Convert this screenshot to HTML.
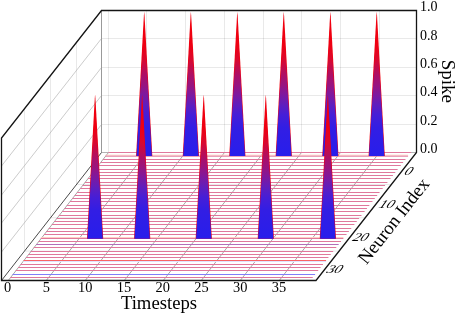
<!DOCTYPE html>
<html><head><meta charset="utf-8"><title>Spike raster 3D</title>
<style>html,body{margin:0;padding:0;background:#fff;}svg{display:block;}text{font-family:"Liberation Serif",serif;fill:#000;}</style>
</head><body>
<svg width="457" height="313" viewBox="0 0 457 313">
<defs>
<linearGradient id="g1" gradientUnits="userSpaceOnUse" x1="0" y1="14.00" x2="0" y2="156.00"><stop offset="0.000" stop-color="#f0000f"/><stop offset="0.220" stop-color="#ee0012"/><stop offset="0.320" stop-color="#da082e"/><stop offset="0.435" stop-color="#aa0f69"/><stop offset="0.500" stop-color="#981480"/><stop offset="0.570" stop-color="#7d19a0"/><stop offset="0.640" stop-color="#5f1ebe"/><stop offset="0.710" stop-color="#461ed7"/><stop offset="0.800" stop-color="#321ee4"/><stop offset="1.000" stop-color="#281eeb"/></linearGradient>
<linearGradient id="g26" gradientUnits="userSpaceOnUse" x1="0" y1="96.70" x2="0" y2="238.70"><stop offset="0.000" stop-color="#f0000f"/><stop offset="0.220" stop-color="#ee0012"/><stop offset="0.320" stop-color="#da082e"/><stop offset="0.435" stop-color="#aa0f69"/><stop offset="0.500" stop-color="#981480"/><stop offset="0.570" stop-color="#7d19a0"/><stop offset="0.640" stop-color="#5f1ebe"/><stop offset="0.710" stop-color="#461ed7"/><stop offset="0.800" stop-color="#321ee4"/><stop offset="1.000" stop-color="#281eeb"/></linearGradient>
</defs>
<rect width="457" height="313" fill="#fff"/>
<path d="M108.50 10.5V152.5M146.50 10.5V152.5M185.50 10.5V152.5M224.50 10.5V152.5M263.50 10.5V152.5M301.50 10.5V152.5M340.50 10.5V152.5M379.50 10.5V152.5M76.50 42.38V184.50M50.50 75.52V217.78M24.50 108.67V251.06" fill="none" stroke="#000" stroke-opacity="0.085" stroke-width="1"/>
<path d="M101.5 38.50H416.5M101.5 67.50H416.5M101.5 95.50H416.5M101.5 124.50H416.5M76.50 184.50H391.50M50.50 217.78H365.50M24.50 251.06H339.50" fill="none" stroke="#000" stroke-opacity="0.085" stroke-width="1"/>
<path d="M101.5 38.50L1.5 166.00M101.5 67.50L1.5 195.00M101.5 95.50L1.5 223.00M101.5 124.50L1.5 252.00" fill="none" stroke="#a8a8a8" stroke-width="0.6"/>
<path d="M108.50 152.5L8.25 280.5M146.50 152.5L46.25 280.5M185.50 152.5L85.25 280.5M224.50 152.5L124.25 280.5M263.50 152.5L163.25 280.5M301.50 152.5L201.25 280.5M340.50 152.5L240.25 280.5M379.50 152.5L279.25 280.5" fill="none" stroke="#808080" stroke-width="0.7"/>
<path d="M101.5 10.5V152.5" fill="none" stroke="#9a9a9a" stroke-width="1"/>
<path d="M101.5 152.5H416.5" fill="none" stroke="#b4b4b4" stroke-width="1"/>
<path d="M101.5 152.5L1.5 280.5" fill="none" stroke="#4a4a4a" stroke-width="1"/>
<path d="M108.46 152.50H410.99" stroke="#e0789c" stroke-width="1" fill="none"/>
<path d="M105.55 155.20H408.08" stroke="#ffcdc3" stroke-width="1" fill="none"/>
<path d="M105.55 156.20H408.08" stroke="#e0789c" stroke-width="1" fill="none"/>
<path d="M136.10 156.00L143.88 15.50L144.20 11.80L144.52 15.50L152.30 156.00Z" fill="#f0000f"/>
<path d="M136.55 156.00L144.20 21.90L151.85 156.00Z" fill="url(#g1)"/>
<path d="M182.77 156.00L190.55 15.50L190.87 11.80L191.19 15.50L198.97 156.00Z" fill="#f0000f"/>
<path d="M183.22 156.00L190.87 21.90L198.52 156.00Z" fill="url(#g1)"/>
<path d="M229.24 156.00L237.02 15.50L237.34 11.80L237.66 15.50L245.44 156.00Z" fill="#f0000f"/>
<path d="M229.69 156.00L237.34 21.90L244.99 156.00Z" fill="url(#g1)"/>
<path d="M275.66 156.00L283.44 15.50L283.76 11.80L284.08 15.50L291.86 156.00Z" fill="#f0000f"/>
<path d="M276.11 156.00L283.76 21.90L291.41 156.00Z" fill="url(#g1)"/>
<path d="M322.28 156.00L330.06 15.50L330.38 11.80L330.70 15.50L338.48 156.00Z" fill="#f0000f"/>
<path d="M322.73 156.00L330.38 21.90L338.03 156.00Z" fill="url(#g1)"/>
<path d="M368.60 156.00L376.38 15.50L376.70 11.80L377.02 15.50L384.80 156.00Z" fill="#f0000f"/>
<path d="M369.05 156.00L376.70 21.90L384.35 156.00Z" fill="url(#g1)"/>
<path d="M102.96 159.50H405.49" stroke="#e0789c" stroke-width="1" fill="none"/>
<path d="M100.60 162.50H403.13" stroke="#e0789c" stroke-width="1" fill="none"/>
<path d="M98.24 165.50H400.77" stroke="#e0789c" stroke-width="1" fill="none"/>
<path d="M95.10 169.50H397.63" stroke="#e0789c" stroke-width="1" fill="none"/>
<path d="M92.74 172.50H395.27" stroke="#e0789c" stroke-width="1" fill="none"/>
<path d="M90.38 175.50H392.91" stroke="#e0789c" stroke-width="1" fill="none"/>
<path d="M88.02 178.50H390.55" stroke="#e0789c" stroke-width="1" fill="none"/>
<path d="M84.88 182.50H387.41" stroke="#e0789c" stroke-width="1" fill="none"/>
<path d="M82.52 185.50H385.05" stroke="#e0789c" stroke-width="1" fill="none"/>
<path d="M80.16 188.50H382.69" stroke="#e0789c" stroke-width="1" fill="none"/>
<path d="M77.02 192.50H379.55" stroke="#e0789c" stroke-width="1" fill="none"/>
<path d="M74.66 195.50H377.19" stroke="#e0789c" stroke-width="1" fill="none"/>
<path d="M72.30 198.50H374.83" stroke="#e0789c" stroke-width="1" fill="none"/>
<path d="M69.94 201.50H372.47" stroke="#e0789c" stroke-width="1" fill="none"/>
<path d="M66.80 205.50H369.33" stroke="#e0789c" stroke-width="1" fill="none"/>
<path d="M64.44 208.50H366.97" stroke="#e0789c" stroke-width="1" fill="none"/>
<path d="M62.08 211.50H364.61" stroke="#e0789c" stroke-width="1" fill="none"/>
<path d="M58.94 215.50H361.47" stroke="#e0789c" stroke-width="1" fill="none"/>
<path d="M56.58 218.50H359.11" stroke="#e0789c" stroke-width="1" fill="none"/>
<path d="M54.22 221.50H356.75" stroke="#e0789c" stroke-width="1" fill="none"/>
<path d="M51.87 224.50H354.40" stroke="#e0789c" stroke-width="1" fill="none"/>
<path d="M48.72 228.50H351.25" stroke="#e0789c" stroke-width="1" fill="none"/>
<path d="M46.36 231.50H348.89" stroke="#e0789c" stroke-width="1" fill="none"/>
<path d="M44.01 234.50H346.54" stroke="#e0789c" stroke-width="1" fill="none"/>
<path d="M40.86 237.50H343.39" stroke="#ffcdc3" stroke-width="1" fill="none"/>
<path d="M40.86 238.50H343.39" stroke="#e0789c" stroke-width="1" fill="none"/>
<path d="M87.00 238.70L94.78 98.20L95.10 94.50L95.42 98.20L103.20 238.70Z" fill="#f0000f"/>
<path d="M87.45 238.70L95.10 104.60L102.75 238.70Z" fill="url(#g26)"/>
<path d="M134.07 238.70L141.85 98.20L142.17 94.50L142.49 98.20L150.27 238.70Z" fill="#f0000f"/>
<path d="M134.52 238.70L142.17 104.60L149.82 238.70Z" fill="url(#g26)"/>
<path d="M195.63 238.70L203.41 98.20L203.73 94.50L204.05 98.20L211.83 238.70Z" fill="#f0000f"/>
<path d="M196.08 238.70L203.73 104.60L211.38 238.70Z" fill="url(#g26)"/>
<path d="M257.69 238.70L265.47 98.20L265.79 94.50L266.11 98.20L273.89 238.70Z" fill="#f0000f"/>
<path d="M258.14 238.70L265.79 104.60L273.44 238.70Z" fill="url(#g26)"/>
<path d="M319.75 238.70L327.53 98.20L327.85 94.50L328.17 98.20L335.95 238.70Z" fill="#f0000f"/>
<path d="M320.20 238.70L327.85 104.60L335.50 238.70Z" fill="url(#g26)"/>
<path d="M38.50 241.50H341.03" stroke="#e0789c" stroke-width="1" fill="none"/>
<path d="M36.15 244.50H338.68" stroke="#b46eb9" stroke-width="1" fill="none"/>
<path d="M33.79 247.50H336.32" stroke="#e0789c" stroke-width="1" fill="none"/>
<path d="M30.64 251.50H333.17" stroke="#e0789c" stroke-width="1" fill="none"/>
<path d="M28.29 254.50H330.82" stroke="#e0789c" stroke-width="1" fill="none"/>
<path d="M25.93 257.50H328.46" stroke="#e0789c" stroke-width="1" fill="none"/>
<path d="M23.57 261.50H326.10" stroke="#e1e1ff" stroke-width="1" fill="none"/>
<path d="M23.57 260.50H326.10" stroke="#fa6464" stroke-width="1" fill="none"/>
<path d="M20.43 264.50H322.96" stroke="#e0789c" stroke-width="1" fill="none"/>
<path d="M18.07 267.50H320.60" stroke="#e0789c" stroke-width="1" fill="none"/>
<path d="M15.71 270.50H318.24" stroke="#e0789c" stroke-width="1" fill="none"/>
<path d="M12.57 274.50H315.10" stroke="#827dfa" stroke-width="1" fill="none"/>
<path d="M10.21 277.50H312.74" stroke="#e0789c" stroke-width="1" fill="none"/>
<path d="M1.5 280.5V138L101.5 10.5H416.5V152.5L316 280.5Z" fill="none" stroke="#141414" stroke-width="1.3" stroke-linejoin="miter"/>
<g style="filter:grayscale(1)">
<text x="419.9" y="153.10" font-size="14">0.0</text>
<text x="419.9" y="124.70" font-size="14">0.2</text>
<text x="419.9" y="96.30" font-size="14">0.4</text>
<text x="419.9" y="67.90" font-size="14">0.6</text>
<text x="419.9" y="39.50" font-size="14">0.8</text>
<text x="419.9" y="11.10" font-size="14">1.0</text>
<text x="7.70" y="291.9" font-size="14.4" text-anchor="middle">0</text>
<text x="46.46" y="291.9" font-size="14.4" text-anchor="middle">5</text>
<text x="85.22" y="291.9" font-size="14.4" text-anchor="middle">10</text>
<text x="123.98" y="291.9" font-size="14.4" text-anchor="middle">15</text>
<text x="162.74" y="291.9" font-size="14.4" text-anchor="middle">20</text>
<text x="201.50" y="291.9" font-size="14.4" text-anchor="middle">25</text>
<text x="240.26" y="291.9" font-size="14.4" text-anchor="middle">30</text>
<text x="279.02" y="291.9" font-size="14.4" text-anchor="middle">35</text>
<text transform="matrix(1.07 0 -0.6 0.85 402.70 175.40)" x="0" y="0" font-size="14">0</text>
<text transform="matrix(1.07 0 -0.6 0.85 377.20 207.70)" x="0" y="0" font-size="14">10</text>
<text transform="matrix(1.07 0 -0.6 0.85 350.90 240.60)" x="0" y="0" font-size="14">20</text>
<text transform="matrix(1.07 0 -0.6 0.85 325.00 273.00)" x="0" y="0" font-size="14">30</text>
<text x="159.0" y="309.0" font-size="18.7" text-anchor="middle">Timesteps</text>
<text transform="translate(442.2 81.4) rotate(90)" font-size="19" text-anchor="middle">Spike</text>
<text transform="translate(398.3 224.7) rotate(-51.9)" font-size="18.7" text-anchor="middle">Neuron Index</text>
</g>
</svg>
</body></html>
